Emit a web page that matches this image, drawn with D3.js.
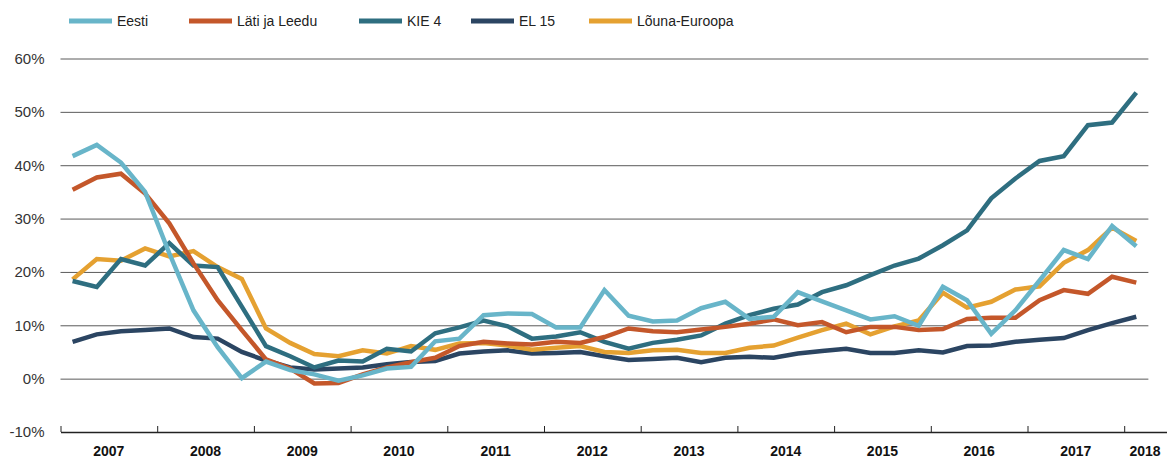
<!DOCTYPE html>
<html>
<head>
<meta charset="utf-8">
<script src="https://cdn.jsdelivr.net/npm/d3@7"></script>
<style>
  body { margin: 0; background: #fff; }
  svg { display: block; font-family: "Liberation Sans", Arial, sans-serif; }
</style>
</head>
<body>
<svg width="1167" height="462"></svg>
<script>
// quarterly data, 2007 Q1 .. 2018 Q1
let years = [2007, 2008, 2009, 2010, 2011, 2012, 2013, 2014, 2015, 2016, 2017, 2018];
let yTicks = [-10, 0, 10, 20, 30, 40, 50, 60];

let eesti = [41.7, 43.8, 40.5, 35.0, 23.5, 12.8, 5.9, 0.1, 3.2, 1.6, 0.8, -0.4, 0.6, 1.9, 2.2, 7.0,
    7.5, 11.9, 12.2, 12.1, 9.6, 9.6, 16.6, 11.8, 10.7, 10.9, 13.2, 14.4, 11.2, 11.6, 16.2, 14.5,
    12.8, 11.1, 11.7, 9.9, 17.2, 14.7, 8.4, 12.8, 18.4, 24.1, 22.4, 28.6, 24.8];
let latiLeedu = [35.4, 37.7, 38.4, 34.7, 29.1, 21.6, 14.7, 9.1, 3.6, 1.9, -0.9, -0.8, 0.8, 2.1, 3.1, 3.9,
    6.1, 6.9, 6.6, 6.4, 6.9, 6.7, 7.8, 9.4, 8.9, 8.7, 9.2, 9.7, 10.3, 11.1, 10.0, 10.6,
    8.7, 9.7, 9.7, 9.1, 9.3, 11.2, 11.4, 11.4, 14.7, 16.6, 15.9, 19.1, 18.0];
let kie4 = [18.3, 17.2, 22.4, 21.2, 25.4, 21.2, 20.9, 13.5, 6.1, 4.2, 2.1, 3.4, 3.2, 5.6, 5.1, 8.5,
    9.6, 10.9, 9.8, 7.5, 7.9, 8.7, 6.9, 5.6, 6.7, 7.3, 8.1, 10.3, 11.9, 13.1, 13.9, 16.2,
    17.5, 19.4, 21.2, 22.5, 25.0, 27.8, 33.8, 37.5, 40.8, 41.7, 47.5, 48.0, 53.6];
let el15 = [6.9, 8.3, 8.9, 9.1, 9.4, 7.8, 7.5, 5.0, 3.4, 2.1, 1.7, 1.9, 2.1, 2.7, 3.1, 3.3,
    4.7, 5.1, 5.3, 4.7, 4.8, 5.0, 4.2, 3.5, 3.7, 3.9, 3.1, 3.9, 4.1, 3.9, 4.7, 5.2,
    5.6, 4.8, 4.8, 5.3, 4.9, 6.1, 6.2, 6.9, 7.3, 7.6, 9.1, 10.4, 11.6];
let lounaEuroopa = [18.6, 22.4, 22.1, 24.4, 22.9, 23.9, 20.9, 18.7, 9.4, 6.7, 4.6, 4.2, 5.3, 4.7, 6.1, 5.4,
    6.6, 6.7, 6.2, 5.4, 5.8, 6.1, 5.0, 4.8, 5.3, 5.4, 4.8, 4.8, 5.8, 6.2, 7.7, 9.1,
    10.3, 8.3, 9.8, 10.9, 16.1, 13.3, 14.4, 16.7, 17.3, 21.7, 24.1, 28.3, 25.8];

let seriesNames = ["Eesti", "Läti ja Leedu", "KIE 4", "EL 15", "Lõuna-Euroopa"];
let seriesColors = ["#68b5c9", "#c4572a", "#2e6e80", "#2b4562", "#e5a131"];
let seriesValues = [eesti, latiLeedu, kie4, el15, lounaEuroopa];

let svg = d3.select("svg"),
    axisRight = 1166;

let x = d3.scaleLinear()
    .domain([2007, 2019])
    .range([60.5, 1220.9]);

let y = d3.scaleLinear()
    .domain([-10, 60])
    .range([432, 58.5]);

// gridlines + y labels
let yAxis = d3.axisLeft(y)
    .tickValues(yTicks.filter(function (d) { return d > -10; }))
    .tickSize(-(x(2018.25) - x(2007)))
    .tickPadding(16)
    .tickFormat(function (d) { return d + "%"; });

let gy = svg.append("g")
    .attr("transform", "translate(" + x(2007) + ",0)")
    .call(yAxis);
gy.select(".domain").remove();
gy.selectAll("line").attr("stroke", "#5a5a5a").attr("stroke-width", 1);
gy.selectAll("text").attr("fill", "#333").style("font-size", "15px");

svg.append("text")
    .attr("x", x(2007) - 16)
    .attr("y", y(-10))
    .attr("dy", "0.32em")
    .attr("text-anchor", "end")
    .attr("fill", "#333")
    .style("font-size", "15px")
    .text("-10%");

// x axis: year ticks pointing up
let xAxis = d3.axisBottom(x)
    .tickValues(years)
    .tickSize(-6)
    .tickSizeOuter(0)
    .tickFormat("");

let gx = svg.append("g")
    .attr("transform", "translate(0," + y(-10) + ")")
    .call(xAxis);
gx.select(".domain").attr("stroke", "#222").attr("stroke-width", 1.3);
gx.selectAll("line").attr("stroke", "#222");

svg.append("g")
    .selectAll("text")
    .data(years)
    .enter()
    .append("text")
    .attr("x", function (d) {
        return d === 2018 ? (x(2018) + axisRight) / 2 : x(d + 0.5);
    })
    .attr("y", 456)
    .attr("text-anchor", "middle")
    .attr("fill", "#111")
    .style("font-size", "14px")
    .style("font-weight", "bold")
    .text(function (d) { return d; });

// lines
let lineGenerator = d3.line()
    .x(function (d, i) { return x(2007 + (i + 0.5) / 4); })
    .y(function (d) { return y(d); });

let drawOrder = [3, 4, 2, 1, 0];
drawOrder.forEach(function (k) {
    svg.append("path")
        .attr("fill", "none")
        .attr("stroke", seriesColors[k])
        .attr("stroke-width", 4.5)
        .attr("stroke-linejoin", "miter")
        .attr("d", lineGenerator(seriesValues[k]));
});

// legend
let legendX = [69, 189, 359, 471, 589];
let legend = svg.append("g")
    .selectAll("g")
    .data(seriesNames)
    .enter()
    .append("g")
    .attr("transform", function (d, i) { return "translate(" + legendX[i] + ",21)"; });

legend.append("line")
    .attr("x1", 0)
    .attr("x2", 43)
    .attr("stroke", function (d, i) { return seriesColors[i]; })
    .attr("stroke-width", 5);

legend.append("text")
    .attr("x", 48)
    .attr("dy", "0.35em")
    .attr("fill", "#222")
    .style("font-size", "14px")
    .text(function (d) { return d; });
</script>
</body>
</html>
